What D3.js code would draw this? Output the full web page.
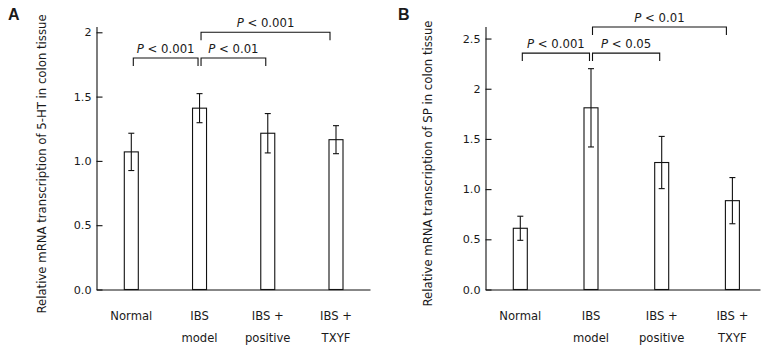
<!DOCTYPE html>
<html>
<head>
<meta charset="utf-8">
<script src="https://cdn.jsdelivr.net/npm/d3@7"></script>
<style>
  html, body { margin: 0; padding: 0; background: #fff; }
  svg { display: block; }
  text { font-family: "DejaVu Sans", Verdana, sans-serif; fill: #1a1a1a; }
</style>
</head>
<body>
<svg id="chart" width="773" height="348"></svg>
<script>
// ---------- data ----------
const categories = [["Normal"], ["IBS", "model"], ["IBS +", "positive"], ["IBS +", "TXYF"]];

const htMeans  = [1.07, 1.41, 1.215, 1.165];
const htErrors = [0.145, 0.113, 0.153, 0.109];
const htTicks  = [0, 0.5, 1, 1.5, 2];
const htTickLabels = ["0.0", "0.5", "1.0", "1.5", "2"];
const htTitle = "Relative mRNA transcription of 5-HT in colon tissue";
const htBrackets = [
  { from: 0, to: 1, level: 1.80, label: "< 0.001" },
  { from: 1, to: 2, level: 1.80, label: "< 0.01" },
  { from: 1, to: 3, level: 2.00, label: "< 0.001" }
];

const spMeans  = [0.61, 1.81, 1.265, 0.885];
const spErrors = [0.12, 0.39, 0.26, 0.23];
const spTicks  = [0, 0.5, 1, 1.5, 2, 2.5];
const spTickLabels = ["0.0", "0.5", "1.0", "1.5", "2", "2.5"];
const spTitle = "Relative mRNA transcription of SP in colon tissue";
const spBrackets = [
  { from: 0, to: 1, level: 2.355, label: "< 0.001" },
  { from: 1, to: 2, level: 2.355, label: "< 0.05" },
  { from: 1, to: 3, level: 2.615, label: "< 0.01" }
];

// ---------- drawing ----------
const svg = d3.select("#chart");

function drawPanel(opt) {
  const g = svg.append("g");
  const y = d3.scaleLinear().domain([0, opt.yMax]).range([289.5, 26.5]);
  const x = d3.scalePoint().domain(d3.range(categories.length)).range(opt.xRange);

  // panel letter
  g.append("text").attr("x", opt.letterX).attr("y", 20)
    .style("font-family", "'Liberation Sans', Arial, sans-serif")
    .style("font-weight", "bold").style("font-size", "16px")
    .text(opt.letter);

  // y axis
  const yAxis = d3.axisLeft(y)
    .tickValues(opt.ticks)
    .tickFormat((d, i) => opt.tickLabels[i])
    .tickSize(-6).tickSizeOuter(0).tickPadding(5);
  const ya = g.append("g").attr("transform", `translate(${opt.axisX},0)`).call(yAxis);
  ya.selectAll("path, line").attr("stroke", "#111").attr("stroke-width", 1.1);
  ya.selectAll("text").style("font-size", "11.2px").attr("fill", "#1a1a1a")
    .style("font-family", "'DejaVu Sans', Verdana, sans-serif");

  // x axis line
  const xl = d3.scaleLinear().range([opt.axisX, opt.axisEnd]);
  const xa = g.append("g").attr("transform", `translate(0,${y(0)})`)
    .call(d3.axisBottom(xl).tickValues([]).tickSizeOuter(0));
  xa.selectAll("path").attr("stroke", "#111").attr("stroke-width", 1.1);

  // y title
  g.append("text")
    .attr("transform", `translate(${opt.titleX},${opt.titleY}) rotate(-90)`)
    .attr("text-anchor", "middle")
    .style("font-size", "11.7px")
    .text(opt.title);

  const bw = 14;
  // bars
  g.selectAll("rect.bar").data(opt.means).enter().append("rect")
    .attr("class", "bar")
    .attr("x", (d, i) => x(i) - bw / 2)
    .attr("y", d => y(d))
    .attr("width", bw)
    .attr("height", d => y(0) - y(d))
    .attr("fill", "#fff").attr("stroke", "#111").attr("stroke-width", 1.1);

  // error bars
  const eb = g.selectAll("g.err").data(opt.means).enter().append("g").attr("class", "err");
  eb.append("line")
    .attr("x1", (d, i) => x(i)).attr("x2", (d, i) => x(i))
    .attr("y1", (d, i) => y(d + opt.errors[i])).attr("y2", (d, i) => y(d - opt.errors[i]));
  eb.append("line")
    .attr("x1", (d, i) => x(i) - 3).attr("x2", (d, i) => x(i) + 3)
    .attr("y1", (d, i) => y(d + opt.errors[i])).attr("y2", (d, i) => y(d + opt.errors[i]));
  eb.append("line")
    .attr("x1", (d, i) => x(i) - 3).attr("x2", (d, i) => x(i) + 3)
    .attr("y1", (d, i) => y(d - opt.errors[i])).attr("y2", (d, i) => y(d - opt.errors[i]));
  eb.selectAll("line").attr("stroke", "#111").attr("stroke-width", 1.1);

  // category labels
  const cl = g.selectAll("text.cat").data(categories).enter().append("text")
    .attr("class", "cat")
    .attr("text-anchor", "middle")
    .style("font-size", "11.6px");
  cl.each(function (lines, i) {
    const t = d3.select(this);
    lines.forEach((ln, k) => {
      t.append("tspan").attr("x", x(i)).attr("y", 320 + k * 21.7).text(ln);
    });
  });

  // significance brackets
  const legLen = 8;
  opt.brackets.forEach(b => {
    const x1 = x(b.from) + (b.from === 1 ? 1.5 : 2);
    const x2 = x(b.to) - (b.to === 1 ? 1.5 : 2 + (b.to - b.from - 1) * 4);
    const yy = y(b.level);
    g.append("path")
      .attr("d", `M${x1},${yy + legLen}V${yy}H${x2}V${yy + legLen}`)
      .attr("fill", "none").attr("stroke", "#111").attr("stroke-width", 1.1);
    const t = g.append("text")
      .attr("x", (x1 + x2) / 2).attr("y", yy - 5)
      .attr("text-anchor", "middle")
      .style("font-size", "11.7px");
    t.append("tspan").style("font-style", "italic").text("P");
    t.append("tspan").text(" " + b.label);
  });
}

drawPanel({
  letter: "A", letterX: 8,
  means: htMeans, errors: htErrors,
  ticks: htTicks, tickLabels: htTickLabels,
  yMax: 2.045, axisX: 96.5, axisEnd: 370,
  xRange: [131.3, 336], title: htTitle, titleX: 46, titleY: 164,
  brackets: htBrackets
});

drawPanel({
  letter: "B", letterX: 398,
  means: spMeans, errors: spErrors,
  ticks: spTicks, tickLabels: spTickLabels,
  yMax: 2.62, axisX: 485.5, axisEnd: 760,
  xRange: [520.3, 732.4], title: spTitle, titleX: 432, titleY: 163.5,
  brackets: spBrackets
});
</script>
</body>
</html>
